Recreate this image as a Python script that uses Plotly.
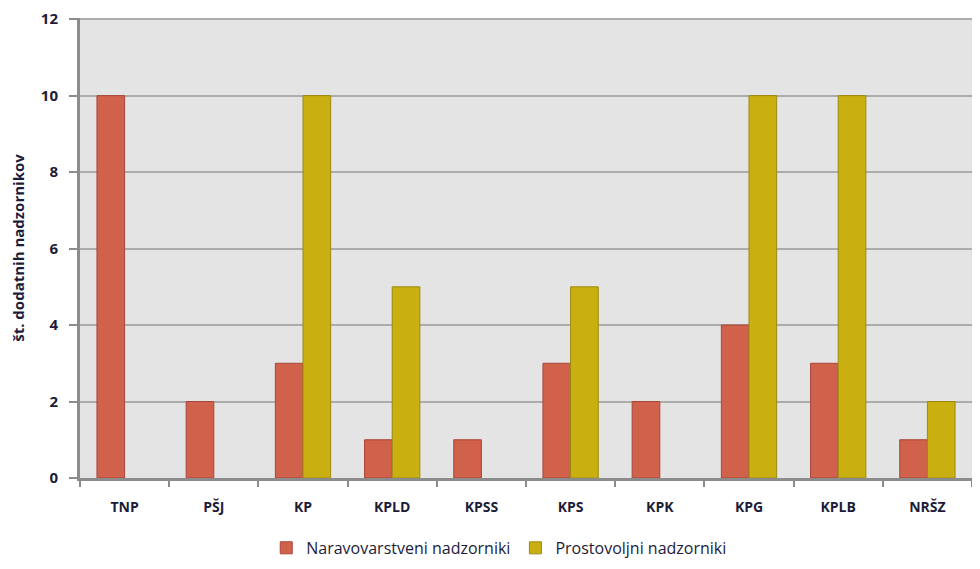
import plotly.graph_objs as go

categories = ["TNP", "PŠJ", "KP", "KPLD", "KPSS", "KPS", "KPK", "KPG", "KPLB", "NRŠZ"]
naravovarstveni = [10, 2, 3, 1, 1, 3, 2, 4, 3, 1]
prostovoljni = [None, None, 10, 5, None, 5, None, 10, 10, 2]

FONT = "'Open Sans', Lato, sans-serif"
TEXT = "#1c1c3a"

data = [
    go.Bar(x=categories, y=naravovarstveni, name="Naravovarstveni nadzorniki",
           marker={"color": "#d0614a", "line": {"color": "#a8463a", "width": 1}}),
    go.Bar(x=categories, y=prostovoljni, name="Prostovoljni nadzorniki",
           marker={"color": "#c9b010", "line": {"color": "#9c8a10", "width": 1}}),
]

# page body adds an 8px offset, so the figure is sized to fit inside it
layout = go.Layout(
    width=964, height=556,
    margin={"l": 72, "r": 0, "t": 10, "b": 86, "autoexpand": False},
    paper_bgcolor="white", plot_bgcolor="#e4e4e4",
    barmode="group", bargap=0.38, bargroupgap=0,
    font={"family": FONT, "color": TEXT, "size": 13},
    showlegend=True,
    legend={"orientation": "h", "x": 0.47, "xanchor": "center", "y": -0.152,
            "yanchor": "middle", "font": {"size": 16}, "itemwidth": 30,
            "traceorder": "normal"},
    xaxis={"showgrid": False, "showline": True, "linecolor": "#8c8c8c", "linewidth": 3,
           "ticks": "outside", "tickson": "boundaries", "ticklen": 6,
           "tickcolor": "#8c8c8c", "tickwidth": 2, "ticklabelstandoff": 14,
           "automargin": False,
           "tickfont": {"size": 14, "family": FONT, "weight": "bold"}, "fixedrange": True},
    yaxis={"range": [0, 12.03], "tickvals": [0, 2, 4, 6, 8, 10, 12],
           "showgrid": True, "gridcolor": "#acacac",
           "gridwidth": 2, "showline": True, "linecolor": "#8c8c8c", "linewidth": 3,
           "ticks": "outside", "ticklen": 8, "tickcolor": "#8c8c8c", "tickwidth": 2,
           "zeroline": False, "ticklabelstandoff": 8, "ticklabeloverflow": "allow",
           "automargin": False,
           "tickfont": {"size": 15, "family": FONT, "weight": "bold"},
           "title": {"text": "<b>št. dodatnih nadzornikov</b>", "standoff": 14,
                     "font": {"size": 15, "family": FONT}}},
)

fig = go.Figure(data=data, layout=layout)
fig.write_html("out.html")
